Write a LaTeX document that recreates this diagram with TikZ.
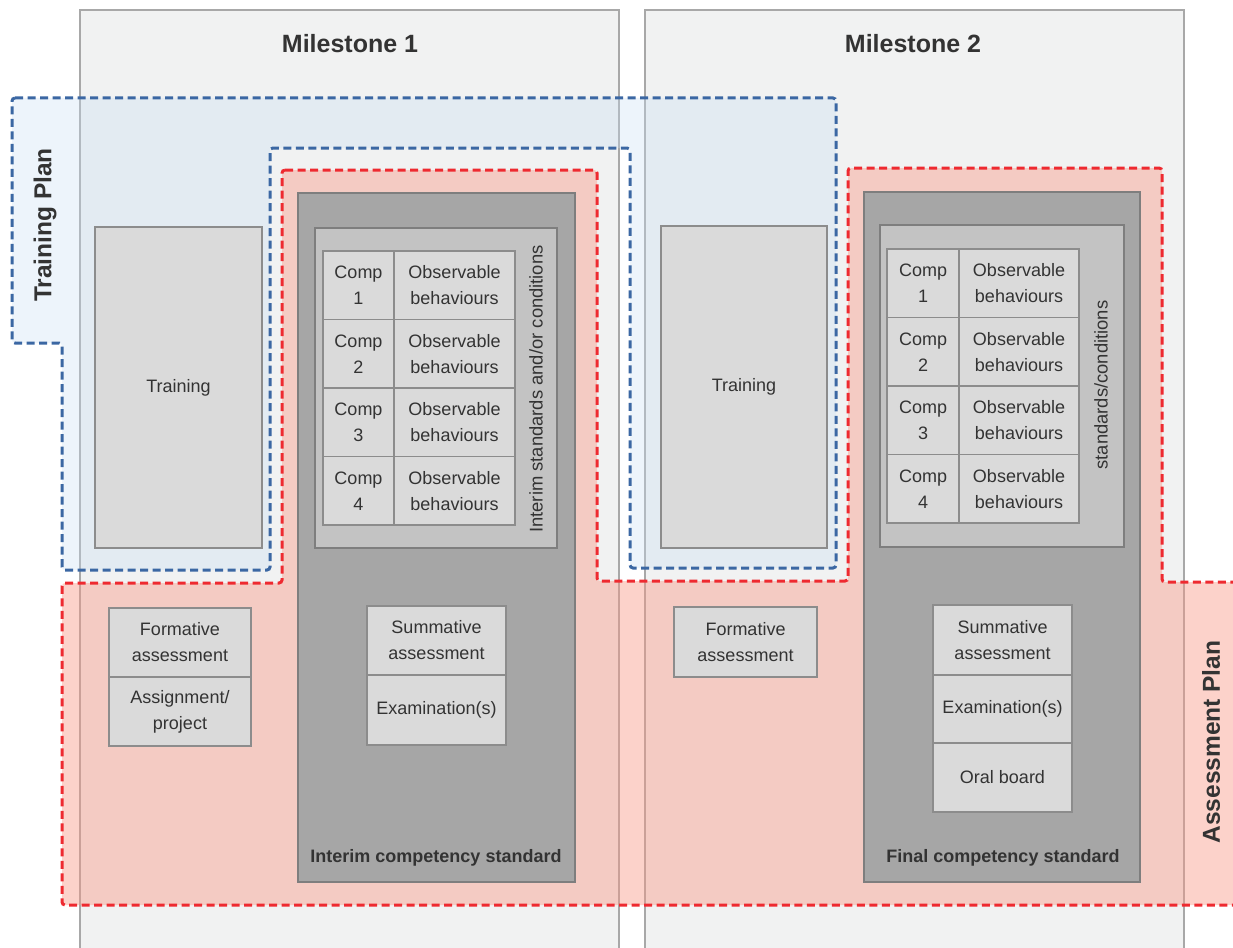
\documentclass[tikz,border=0pt]{standalone}
\usepackage{fontspec}
\setmainfont{Liberation Sans}
\definecolor{panelfill}{HTML}{F1F2F2}
\definecolor{panelline}{HTML}{A8A8A8}
\definecolor{bluefill}{HTML}{C8DEF5}
\definecolor{pinkfill}{HTML}{FA9682}
\definecolor{bluedash}{HTML}{3B67A3}
\definecolor{reddash}{HTML}{EE2A30}
\definecolor{darkbox}{HTML}{A6A6A6}
\definecolor{darkline}{HTML}{7E7E7E}
\definecolor{midbox}{HTML}{C3C3C3}
\definecolor{cellfill}{HTML}{DADADA}
\definecolor{cellline}{HTML}{8C8C8C}
\definecolor{txt}{HTML}{333333}
\tikzset{
  rbox/.style={rectangle, inner sep=0pt, outer sep=0pt, align=center, text=txt,
    font=\fontsize{18}{26}\selectfont},
  panel/.style={rbox, fill=panelfill, draw=panelline, line width=1.3pt},
  darkstd/.style={rbox, fill=darkbox, draw=darkline, line width=1.5pt},
  midstd/.style={rbox, fill=midbox, draw=darkline, line width=1.5pt},
  cell/.style={rbox, fill=cellfill, draw=cellline, line width=1.5pt},
  planline/.style={line width=3pt, dash pattern=on 8pt off 4.5pt, rounded corners=3pt},
  titletext/.style={font=\bfseries\fontsize{25}{30}\selectfont, text=txt, inner sep=0pt},
  plantext/.style={font=\bfseries\fontsize{24.5}{30}\selectfont, text=txt, inner sep=0pt, rotate=90},
  stdtext/.style={font=\bfseries\fontsize{18}{22}\selectfont, text=txt, inner sep=0pt},
  sidetext/.style={font=\fontsize{18.4}{22}\selectfont, text=txt, inner sep=0pt, rotate=90},
}
\newcommand\boxnode[7]{\node[#2,minimum width={#5-#3},minimum height={#6-#4}] (#1) at ({(#3+#5)/2},{(#4+#6)/2}) {#7};}
\begin{document}
\begin{tikzpicture}[x=1pt,y=-1pt]
\useasboundingbox (0,0) rectangle (1233,947);
\clip (0,0) rectangle (1233,947);
\fill[white] (0,0) rectangle (1233,947);
% milestone panels
\boxnode{panelA}{panel}{80}{10}{619}{960}{}
\boxnode{panelB}{panel}{645}{10}{1184}{960}{}
% plan fills
\fill[bluefill, opacity=0.32, rounded corners=3pt]
  (12,98) -- (836,98) -- (836,568) -- (630,568) -- (630,148) -- (270,148)
  -- (270,570) -- (62,570) -- (62,343) -- (12,343) -- cycle;
\fill[pinkfill, opacity=0.42, rounded corners=3pt]
  (282,170) -- (597,170) -- (597,581) -- (848,581) -- (848,168) -- (1162,168)
  -- (1162,582) -- (1250,582) -- (1250,905) -- (62,905) -- (62,583) -- (282,583) -- cycle;
% titles
\node[titletext] (m1) at (350,44) {Milestone 1};
\node[titletext] (m2) at (913,44) {Milestone 2};
% Milestone 1 contents
\boxnode{trainA}{cell}{95}{227}{262}{548}{Training}
\boxnode{formA}{cell}{109}{608}{251}{677}{Formative\\assessment}
\boxnode{assignA}{cell}{109}{677}{251}{746}{Assignment/\\project}
\boxnode{darkA}{darkstd}{298}{193}{575}{882}{}
\boxnode{midA}{midstd}{315}{228}{557}{548}{}
\boxnode{cA1}{cell}{323}{251}{394}{319.5}{Comp\\1}
\boxnode{oA1}{cell}{394}{251}{515}{319.5}{Observable\\behaviours}
\boxnode{cA2}{cell}{323}{319.5}{394}{388}{Comp\\2}
\boxnode{oA2}{cell}{394}{319.5}{515}{388}{Observable\\behaviours}
\boxnode{cA3}{cell}{323}{388}{394}{456.5}{Comp\\3}
\boxnode{oA3}{cell}{394}{388}{515}{456.5}{Observable\\behaviours}
\boxnode{cA4}{cell}{323}{456.5}{394}{525}{Comp\\4}
\boxnode{oA4}{cell}{394}{456.5}{515}{525}{Observable\\behaviours}
\node[sidetext] (sideA) at (536,389) {Interim standards and/or conditions};
\boxnode{sumA}{cell}{367}{606}{506}{675}{Summative\\assessment}
\boxnode{examA}{cell}{367}{675}{506}{745}{Examination(s)}
\node[stdtext] (stdA) at (436,858) {Interim competency standard};
% Milestone 2 contents
\boxnode{trainB}{cell}{661}{226}{827}{548}{Training}
\boxnode{formB}{cell}{674}{607}{817}{677}{Formative\\assessment}
\boxnode{darkB}{darkstd}{864}{192}{1140}{882}{}
\boxnode{midB}{midstd}{880}{225}{1124}{547}{}
\boxnode{cB1}{cell}{887}{249}{959}{317.5}{Comp\\1}
\boxnode{oB1}{cell}{959}{249}{1079}{317.5}{Observable\\behaviours}
\boxnode{cB2}{cell}{887}{317.5}{959}{386}{Comp\\2}
\boxnode{oB2}{cell}{959}{317.5}{1079}{386}{Observable\\behaviours}
\boxnode{cB3}{cell}{887}{386}{959}{454.5}{Comp\\3}
\boxnode{oB3}{cell}{959}{386}{1079}{454.5}{Observable\\behaviours}
\boxnode{cB4}{cell}{887}{454.5}{959}{523}{Comp\\4}
\boxnode{oB4}{cell}{959}{454.5}{1079}{523}{Observable\\behaviours}
\node[sidetext] (sideB) at (1101,385) {standards/conditions};
\boxnode{sumB}{cell}{933}{605}{1072}{675}{Summative\\assessment}
\boxnode{examB}{cell}{933}{675}{1072}{743}{Examination(s)}
\boxnode{oralB}{cell}{933}{743}{1072}{812}{Oral board}
\node[stdtext] (stdB) at (1003,858) {Final competency standard};
% plan outlines
\draw[bluedash, planline]
  (12,98) -- (836,98) -- (836,568) -- (630,568) -- (630,148) -- (270,148)
  -- (270,570) -- (62,570) -- (62,343) -- (12,343) -- cycle;
\draw[reddash, planline]
  (282,170) -- (597,170) -- (597,581) -- (848,581) -- (848,168) -- (1162,168)
  -- (1162,582) -- (1250,582) -- (1250,905) -- (62,905) -- (62,583) -- (282,583) -- cycle;
% plan labels
\node[plantext] (tplan) at (45,225) {Training Plan};
\node[plantext] (aplan) at (1211,742) {Assessment Plan};
\end{tikzpicture}
\end{document}
